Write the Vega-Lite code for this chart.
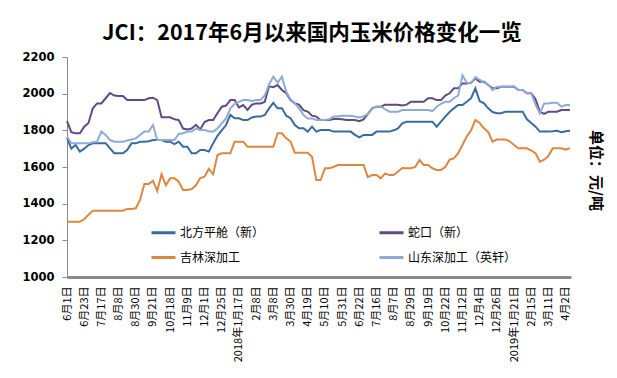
{
"$schema": "https://vega.github.io/schema/vega-lite/v6.json",
"width": 504, "height": 220,
"autosize": {"type": "none"},
"padding": {"left": 67, "top": 57, "right": 46, "bottom": 101},
"background": "white",
"title": {"text": "JCI：2017年6月以来国内玉米价格变化一览", "font": "Noto Sans CJK SC", "fontSize": 21.5, "fontWeight": "bold", "color": "#000", "anchor": "middle", "dx": -7, "offset": 7},
"config": {"view": {"stroke": null}, "axis": {"grid": false}},
"data": {"values": [
{"day":0,"north":1757,"shekou":1850,"jilin":1302,"shandong":1766},
{"day":4,"north":1700,"shekou":1790,"jilin":1302,"shandong":1729},
{"day":8,"north":1720,"shekou":1784,"jilin":1302,"shandong":1729},
{"day":12,"north":1684,"shekou":1784,"jilin":1302,"shandong":1729},
{"day":16,"north":1700,"shekou":1820,"jilin":1315,"shandong":1729},
{"day":20,"north":1720,"shekou":1840,"jilin":1340,"shandong":1729},
{"day":24,"north":1729,"shekou":1920,"jilin":1362,"shandong":1735},
{"day":28,"north":1729,"shekou":1947,"jilin":1362,"shandong":1738},
{"day":32,"north":1729,"shekou":1947,"jilin":1362,"shandong":1793},
{"day":36,"north":1729,"shekou":1975,"jilin":1362,"shandong":1775},
{"day":40,"north":1702,"shekou":2003,"jilin":1362,"shandong":1747},
{"day":44,"north":1675,"shekou":1990,"jilin":1362,"shandong":1738},
{"day":48,"north":1675,"shekou":1987,"jilin":1362,"shandong":1738},
{"day":52,"north":1675,"shekou":1987,"jilin":1362,"shandong":1738},
{"day":56,"north":1693,"shekou":1965,"jilin":1371,"shandong":1745},
{"day":60,"north":1729,"shekou":1965,"jilin":1371,"shandong":1750},
{"day":64,"north":1729,"shekou":1965,"jilin":1375,"shandong":1756},
{"day":68,"north":1738,"shekou":1965,"jilin":1420,"shandong":1775},
{"day":72,"north":1738,"shekou":1965,"jilin":1507,"shandong":1793},
{"day":76,"north":1740,"shekou":1975,"jilin":1507,"shandong":1793},
{"day":80,"north":1747,"shekou":1978,"jilin":1525,"shandong":1829},
{"day":84,"north":1747,"shekou":1965,"jilin":1470,"shandong":1747},
{"day":88,"north":1747,"shekou":1871,"jilin":1560,"shandong":1747},
{"day":92,"north":1738,"shekou":1871,"jilin":1500,"shandong":1747},
{"day":96,"north":1738,"shekou":1871,"jilin":1538,"shandong":1747},
{"day":100,"north":1725,"shekou":1860,"jilin":1538,"shandong":1747},
{"day":104,"north":1738,"shekou":1856,"jilin":1520,"shandong":1780},
{"day":108,"north":1711,"shekou":1810,"jilin":1475,"shandong":1784},
{"day":112,"north":1711,"shekou":1805,"jilin":1475,"shandong":1793},
{"day":116,"north":1675,"shekou":1810,"jilin":1480,"shandong":1793},
{"day":120,"north":1675,"shekou":1830,"jilin":1500,"shandong":1810},
{"day":124,"north":1693,"shekou":1805,"jilin":1540,"shandong":1802},
{"day":128,"north":1693,"shekou":1845,"jilin":1547,"shandong":1802},
{"day":132,"north":1684,"shekou":1856,"jilin":1590,"shandong":1795},
{"day":136,"north":1729,"shekou":1856,"jilin":1560,"shandong":1793},
{"day":140,"north":1770,"shekou":1893,"jilin":1665,"shandong":1810},
{"day":144,"north":1800,"shekou":1929,"jilin":1675,"shandong":1838},
{"day":148,"north":1829,"shekou":1935,"jilin":1675,"shandong":1865},
{"day":152,"north":1884,"shekou":1965,"jilin":1675,"shandong":1920},
{"day":156,"north":1866,"shekou":1965,"jilin":1738,"shandong":1945},
{"day":160,"north":1866,"shekou":1925,"jilin":1738,"shandong":1955},
{"day":164,"north":1856,"shekou":1938,"jilin":1738,"shandong":1965},
{"day":168,"north":1856,"shekou":1911,"jilin":1711,"shandong":1965},
{"day":172,"north":1870,"shekou":1940,"jilin":1711,"shandong":1960},
{"day":176,"north":1875,"shekou":1947,"jilin":1711,"shandong":1965},
{"day":180,"north":1875,"shekou":1947,"jilin":1711,"shandong":1965},
{"day":184,"north":1884,"shekou":1955,"jilin":1711,"shandong":1990},
{"day":188,"north":1920,"shekou":2040,"jilin":1711,"shandong":2050},
{"day":192,"north":1950,"shekou":2035,"jilin":1711,"shandong":2093},
{"day":196,"north":1920,"shekou":2047,"jilin":1784,"shandong":2060},
{"day":200,"north":1920,"shekou":2020,"jilin":1784,"shandong":2093},
{"day":204,"north":1880,"shekou":2002,"jilin":1757,"shandong":2010},
{"day":208,"north":1866,"shekou":1965,"jilin":1740,"shandong":1970},
{"day":212,"north":1829,"shekou":1947,"jilin":1678,"shandong":1947},
{"day":216,"north":1811,"shekou":1940,"jilin":1678,"shandong":1920},
{"day":220,"north":1811,"shekou":1910,"jilin":1678,"shandong":1884},
{"day":224,"north":1793,"shekou":1902,"jilin":1678,"shandong":1865},
{"day":228,"north":1820,"shekou":1880,"jilin":1656,"shandong":1865},
{"day":232,"north":1793,"shekou":1875,"jilin":1529,"shandong":1856},
{"day":236,"north":1802,"shekou":1856,"jilin":1529,"shandong":1856},
{"day":240,"north":1802,"shekou":1856,"jilin":1593,"shandong":1856},
{"day":244,"north":1802,"shekou":1856,"jilin":1593,"shandong":1860},
{"day":248,"north":1793,"shekou":1862,"jilin":1600,"shandong":1875},
{"day":252,"north":1793,"shekou":1862,"jilin":1611,"shandong":1875},
{"day":256,"north":1793,"shekou":1860,"jilin":1611,"shandong":1880},
{"day":260,"north":1793,"shekou":1856,"jilin":1611,"shandong":1880},
{"day":264,"north":1793,"shekou":1856,"jilin":1611,"shandong":1880},
{"day":268,"north":1775,"shekou":1856,"jilin":1611,"shandong":1875},
{"day":272,"north":1762,"shekou":1850,"jilin":1611,"shandong":1870},
{"day":276,"north":1775,"shekou":1860,"jilin":1611,"shandong":1875},
{"day":280,"north":1775,"shekou":1890,"jilin":1545,"shandong":1890},
{"day":284,"north":1775,"shekou":1920,"jilin":1556,"shandong":1920},
{"day":288,"north":1793,"shekou":1929,"jilin":1556,"shandong":1929},
{"day":292,"north":1793,"shekou":1929,"jilin":1538,"shandong":1929},
{"day":296,"north":1793,"shekou":1940,"jilin":1565,"shandong":1915},
{"day":300,"north":1793,"shekou":1940,"jilin":1556,"shandong":1902},
{"day":304,"north":1800,"shekou":1940,"jilin":1556,"shandong":1902},
{"day":308,"north":1811,"shekou":1940,"jilin":1575,"shandong":1902},
{"day":312,"north":1838,"shekou":1935,"jilin":1595,"shandong":1911},
{"day":316,"north":1847,"shekou":1940,"jilin":1593,"shandong":1911},
{"day":320,"north":1847,"shekou":1956,"jilin":1593,"shandong":1911},
{"day":324,"north":1847,"shekou":1956,"jilin":1600,"shandong":1911},
{"day":328,"north":1847,"shekou":1956,"jilin":1638,"shandong":1911},
{"day":332,"north":1847,"shekou":1956,"jilin":1611,"shandong":1911},
{"day":336,"north":1847,"shekou":1975,"jilin":1611,"shandong":1911},
{"day":340,"north":1847,"shekou":1975,"jilin":1593,"shandong":1905},
{"day":344,"north":1820,"shekou":1965,"jilin":1584,"shandong":1929},
{"day":348,"north":1847,"shekou":1965,"jilin":1584,"shandong":1945},
{"day":352,"north":1875,"shekou":1990,"jilin":1600,"shandong":1956},
{"day":356,"north":1900,"shekou":2002,"jilin":1640,"shandong":1956},
{"day":360,"north":1920,"shekou":2029,"jilin":1647,"shandong":1975},
{"day":364,"north":1938,"shekou":2029,"jilin":1675,"shandong":1990},
{"day":368,"north":1938,"shekou":2056,"jilin":1720,"shandong":2100},
{"day":372,"north":1956,"shekou":2056,"jilin":1766,"shandong":2060},
{"day":376,"north":1975,"shekou":2060,"jilin":1800,"shandong":2056},
{"day":380,"north":2029,"shekou":2083,"jilin":1856,"shandong":2090},
{"day":384,"north":1960,"shekou":2065,"jilin":1840,"shandong":2075},
{"day":388,"north":1947,"shekou":2065,"jilin":1811,"shandong":2060},
{"day":392,"north":1920,"shekou":2047,"jilin":1790,"shandong":2050},
{"day":396,"north":1900,"shekou":2029,"jilin":1738,"shandong":2020},
{"day":400,"north":1893,"shekou":2029,"jilin":1750,"shandong":2038},
{"day":404,"north":1893,"shekou":2038,"jilin":1750,"shandong":2038},
{"day":408,"north":1902,"shekou":2038,"jilin":1750,"shandong":2038},
{"day":412,"north":1902,"shekou":2038,"jilin":1740,"shandong":2038},
{"day":416,"north":1902,"shekou":2038,"jilin":1720,"shandong":2040},
{"day":420,"north":1902,"shekou":2020,"jilin":1702,"shandong":2020},
{"day":424,"north":1902,"shekou":2020,"jilin":1702,"shandong":2020},
{"day":428,"north":1860,"shekou":2002,"jilin":1702,"shandong":2002},
{"day":432,"north":1840,"shekou":2002,"jilin":1690,"shandong":2002},
{"day":436,"north":1820,"shekou":1970,"jilin":1675,"shandong":1940},
{"day":440,"north":1793,"shekou":1902,"jilin":1629,"shandong":1893},
{"day":444,"north":1793,"shekou":1890,"jilin":1640,"shandong":1947},
{"day":448,"north":1793,"shekou":1902,"jilin":1660,"shandong":1947},
{"day":452,"north":1795,"shekou":1902,"jilin":1702,"shandong":1950},
{"day":456,"north":1798,"shekou":1902,"jilin":1702,"shandong":1950},
{"day":460,"north":1790,"shekou":1911,"jilin":1702,"shandong":1929},
{"day":464,"north":1795,"shekou":1911,"jilin":1695,"shandong":1938},
{"day":468,"north":1798,"shekou":1911,"jilin":1702,"shandong":1938}
]},
"transform": [{"fold": ["north", "shekou", "jilin", "shandong"], "as": ["series", "price"]}],
"mark": {"type": "line", "strokeWidth": 2},
"encoding": {
"x": {"field": "day", "type": "quantitative", "scale": {"domain": [0, 469], "nice": false, "zero": false},
 "axis": {"title": null, "values": [0,16,32,48,64,80,96,112,128,144,160,176,192,208,224,240,256,272,288,304,320,336,352,368,384,400,416,432,448,464],
  "labelExpr": "['6月1日','6月23日','7月17日','8月8日','8月30日','9月21日','10月18日','11月9日','12月1日','12月25日','2018年1月17日','2月8日','3月8日','3月30日','4月19日','5月10日','5月31日','6月22日','7月16日','8月7日','8月29日','9月19日','10月22日','11月12日','12月4日','12月26日','2019年1月21日','2月15日','3月11日','4月2日'][round(datum.value/16)]",
  "labelAngle": 270, "labelFont": "Noto Sans CJK SC", "labelFontSize": 11, "labelColor": "#000", "labelPadding": 6,
  "labelOverlap": false, "labelFlush": false, "labelBound": false,
  "domainColor": "#8a8a8a", "domainWidth": 3, "tickColor": "#ffffff", "tickSize": 3, "tickWidth": 1}},
"y": {"field": "price", "type": "quantitative", "scale": {"domain": [1000, 2200], "nice": false, "zero": false},
 "axis": {"values": [1000,1200,1400,1600,1800,2000,2200], "format": "d", "labelFont": "DejaVu Sans", "labelFontWeight": "bold", "labelFontSize": 11.5, "labelColor": "#000", "labelPadding": 8,
  "tickSize": 5, "tickColor": "#8a8a8a", "domainColor": "#8a8a8a",
  "title": "单位：元/吨", "titleFont": "Noto Sans CJK SC", "titleFontSize": 15, "titleFontWeight": "bold", "titleColor": "#000",
  "titleAngle": 90, "titleX": 528, "titleY": 113, "titleAlign": "center", "titleBaseline": "middle"}},
"color": {"field": "series", "type": "nominal",
 "scale": {"domain": ["north", "jilin", "shekou", "shandong"], "range": ["#3A6B9F", "#DE8740", "#604A82", "#8FAAD3"]},
 "legend": {"orient": "none", "legendX": 83, "legendY": 162, "columns": 2, "columnPadding": 108, "rowPadding": 5, "padding": 0,
  "symbolType": "stroke", "symbolSize": 576, "symbolStrokeWidth": 3, "labelOffset": 3,
  "labelFont": "Noto Sans CJK SC", "labelFontSize": 12, "labelColor": "#000", "title": null,
  "labelExpr": "datum.label == 'north' ? '北方平舱（新）' : datum.label == 'shekou' ? '蛇口（新）' : datum.label == 'jilin' ? '吉林深加工' : '山东深加工（英轩）'"}}
}
}
